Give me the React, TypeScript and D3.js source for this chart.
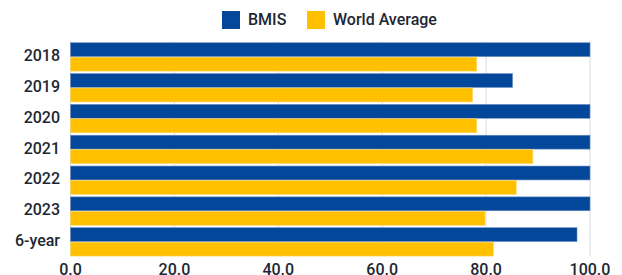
import { useEffect, useRef } from 'react'
import * as d3 from 'd3'

const categories = ['2018', '2019', '2020', '2021', '2022', '2023', '6-year']
const bmisValues = [100, 85.1, 100, 100, 100, 100, 97.5]
const worldValues = [78.2, 77.4, 78.2, 89.0, 85.8, 79.8, 81.4]
const seriesNames = ['BMIS', 'World Average']
const seriesColors = ['#03479a', '#ffc000']
const xTicks = [0, 20, 40, 60, 80, 100]

export default function App() {
  const svgRef = useRef<SVGSVGElement>(null)

  useEffect(() => {
    if (!svgRef.current) return
    const width = 622
    const height = 275

    // no page margin / scrollbars
    document.body.style.margin = '0'
    document.body.style.overflow = 'hidden'

    d3.select(svgRef.current).selectAll('*').remove()
    const svg = d3.select(svgRef.current)
      .attr('width', width)
      .attr('height', height)
      .style('display', 'block')
      .style('font-family', 'Roboto, "Open Sans", sans-serif')

    const x = d3.scaleLinear().domain([0, 100]).range([70.5, 590])
    const y = d3.scaleBand<string>()
      .domain(categories)
      .range([41.5, 257.3])
      .paddingInner(0.08)
      .paddingOuter(0.04)
    const ySub = d3.scaleBand<string>()
      .domain(seriesNames)
      .range([0, y.bandwidth()])
      .paddingInner(0.04)

    const top = y.range()[0]
    const bottom = y(categories[categories.length - 1])! + y.bandwidth()

    // Gridlines
    svg.append('g')
      .selectAll('line')
      .data(xTicks)
      .enter().append('line')
      .attr('x1', d => x(d))
      .attr('x2', d => x(d))
      .attr('y1', top)
      .attr('y2', bottom)
      .attr('stroke', '#d5dbe3')
      .attr('stroke-width', 1)

    // Bars
    const rows = categories.map((c, i) => ({ c, vals: [bmisValues[i], worldValues[i]] }))
    const groups = svg.append('g')
      .selectAll('g')
      .data(rows)
      .enter().append('g')
      .attr('transform', d => `translate(0,${y(d.c)})`)

    groups.selectAll('rect')
      .data(d => d.vals.map((v, j) => ({ v, j })))
      .enter().append('rect')
      .attr('x', x(0))
      .attr('y', d => ySub(seriesNames[d.j])!)
      .attr('width', d => x(d.v) - x(0))
      .attr('height', ySub.bandwidth())
      .attr('fill', d => seriesColors[d.j])
      .attr('stroke', d => d.j === 0 ? '#6f8fc4' : '#ffd766')
      .attr('stroke-width', 0.6)

    // Y labels
    svg.append('g')
      .selectAll('text')
      .data(categories)
      .enter().append('text')
      .attr('x', 60)
      .attr('y', d => y(d)! + y.bandwidth() / 2)
      .attr('text-anchor', 'end')
      .attr('dominant-baseline', 'middle')
      .attr('fill', '#1c2733')
      .attr('font-size', 16)
      .attr('font-weight', 500)
      .text(d => d)

    // X labels
    svg.append('g')
      .selectAll('text')
      .data(xTicks)
      .enter().append('text')
      .attr('x', d => x(d))
      .attr('y', 275)
      .attr('text-anchor', 'middle')
      .attr('fill', '#1c2733')
      .attr('font-size', 16)
      .attr('font-weight', 500)
      .text(d => d3.format('.1f')(d))

    // Legend
    const legendX = [222, 307]
    const legend = svg.append('g')
      .selectAll('g')
      .data(seriesNames)
      .enter().append('g')
      .attr('transform', (_d, i) => `translate(${legendX[i]},11)`)
    legend.append('rect')
      .attr('width', 18)
      .attr('height', 18)
      .attr('fill', (_d, i) => seriesColors[i])
    legend.append('text')
      .attr('x', 26)
      .attr('y', 9.5)
      .attr('dominant-baseline', 'middle')
      .attr('fill', '#1c2733')
      .attr('font-size', 16)
      .attr('font-weight', 500)
      .text(d => d)
  }, [])

  return (
    <div>
      <svg ref={svgRef}></svg>
    </div>
  )
}
